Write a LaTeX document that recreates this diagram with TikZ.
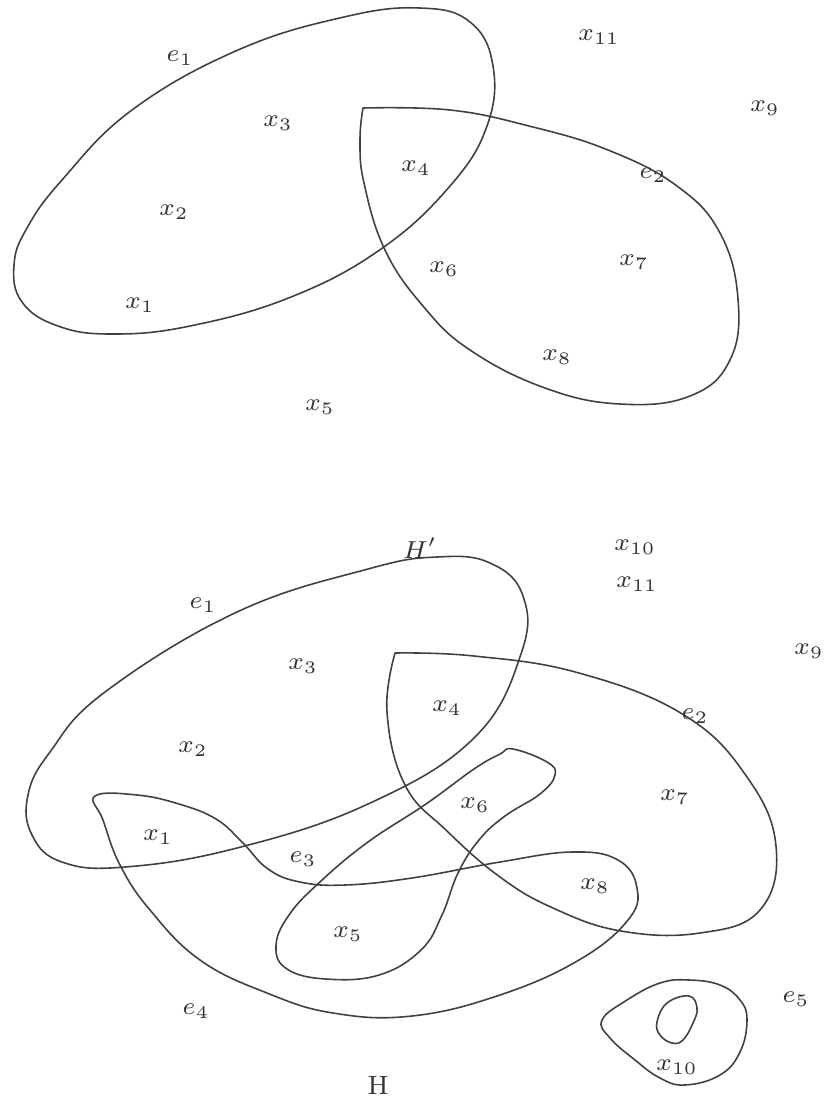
\documentclass[tikz,border=0pt]{standalone}
\usepackage{amsmath,amssymb}
\usepackage{tikz}
\usetikzlibrary{positioning}

\begin{document}
\begin{tikzpicture}[
    x=0.01cm, y=-0.01cm,
    edge/.style={draw=black!75, line width=0.45pt},
    lbl/.style={inner sep=0pt, font=\fontsize{7.5}{8}\selectfont, text=black!80}
]
\useasboundingbox (0,0) rectangle (825,1099);

% --- upper hypergraph H' ---
\draw[edge] plot[smooth cycle, tension=0.7] coordinates {(14,265) (22,302) (58,326) (112,334) (190,326) (291,297) (381,249) (450,186) (487,126) (493,66) (470,22) (420,8) (344,17) (238,50) (132,110) (62,180) (27,228)};
\draw[edge] plot[smooth, tension=0.7] coordinates {(363,108) (450,110) (529,126) (608,150) (677,186) (720,233) (738,299) (730,360) (690,396) (620,404) (545,388) (470,350) (423,306) (385,250) (364,183) (360,140) (363,108)};

\node[lbl] (te1) at (180,58) {$e_1$};
\node[lbl] (te2) at (653,175) {$e_2$};
\node[lbl] (tx1) at (140,305) {$x_1$};
\node[lbl] (tx2) at (174,212) {$x_2$};
\node[lbl] (tx3) at (278,123) {$x_3$};
\node[lbl] (tx4) at (416,168) {$x_4$};
\node[lbl] (tx5) at (320,407) {$x_5$};
\node[lbl] (tx6) at (444,269) {$x_6$};
\node[lbl] (tx7) at (634,262) {$x_7$};
\node[lbl] (tx8) at (557,357) {$x_8$};
\node[lbl] (tx9) at (765,108) {$x_9$};
\node[lbl] (tx11) at (599,37) {$x_{11}$};

% --- lower hypergraph H ---
\draw[edge] plot[smooth cycle, tension=0.7] coordinates {(28,795) (32,835) (62,862) (125,867) (237,848) (368,804) (474,738) (521,654) (523,596) (490,563) (437,557) (368,569) (237,612) (105,692) (50,752)};
\draw[edge] plot[smooth, tension=0.7] coordinates {(395,653) (474,656) (579,673) (684,715) (747,777) (776,846) (760,910) (700,933) (621,931) (553,908) (500,877) (447,831) (405,785) (387,712) (395,653)};
\draw[edge] plot[smooth cycle, tension=0.7] coordinates {(513,749) (547,762) (555,775) (540,794) (505,816) (479,840) (458,873) (442,915) (421,950) (379,975) (326,979) (287,969) (276,946) (289,915) (321,881) (368,842) (426,804) (474,769) (500,754)};
\draw[edge] plot[smooth cycle, tension=0.7] coordinates {(95,796) (137,795) (179,804) (216,819) (242,842) (268,869) (300,882) (345,885) (412,878) (500,862) (572,852) (618,860) (637,888) (628,920) (579,960) (500,995) (412,1016) (333,1013) (267,993) (200,960) (150,910) (120,865) (103,820)};
\draw[edge] plot[smooth cycle, tension=0.7] coordinates {(602,1020) (627,1000) (660,983) (689,980) (720,985) (740,1000) (747,1020) (740,1052) (720,1075) (685,1085) (660,1078) (635,1060) (610,1038)};
\draw[edge] plot[smooth cycle, tension=0.7] coordinates {(689,996) (697,1008) (693,1023) (683,1040) (672,1043) (660,1035) (657,1022) (667,1003)};

\node[lbl] (hp) at (420,548) {$H'$};
\node[lbl] (be1) at (203,605) {$e_1$};
\node[lbl] (be2) at (695,716) {$e_2$};
\node[lbl] (be3) at (303,859) {$e_3$};
\node[lbl] (be4) at (196,1011) {$e_4$};
\node[lbl] (be5) at (796,999) {$e_5$};
\node[lbl] (bx1) at (158,837) {$x_1$};
\node[lbl] (bx2) at (193,749) {$x_2$};
\node[lbl] (bx3) at (303,666) {$x_3$};
\node[lbl] (bx4) at (447,708) {$x_4$};
\node[lbl] (bx5) at (348,934) {$x_5$};
\node[lbl] (bx6) at (475,805) {$x_6$};
\node[lbl] (bx7) at (675,797) {$x_7$};
\node[lbl] (bx8) at (595,886) {$x_8$};
\node[lbl] (bx9) at (809,651) {$x_9$};
\node[lbl] (bx10a) at (635,547) {$x_{10}$};
\node[lbl] (bx11) at (637,584) {$x_{11}$};
\node[lbl] (bx10b) at (677,1067) {$x_{10}$};
\node[lbl] (hh) at (378,1085) {H};
\end{tikzpicture}
\end{document}
